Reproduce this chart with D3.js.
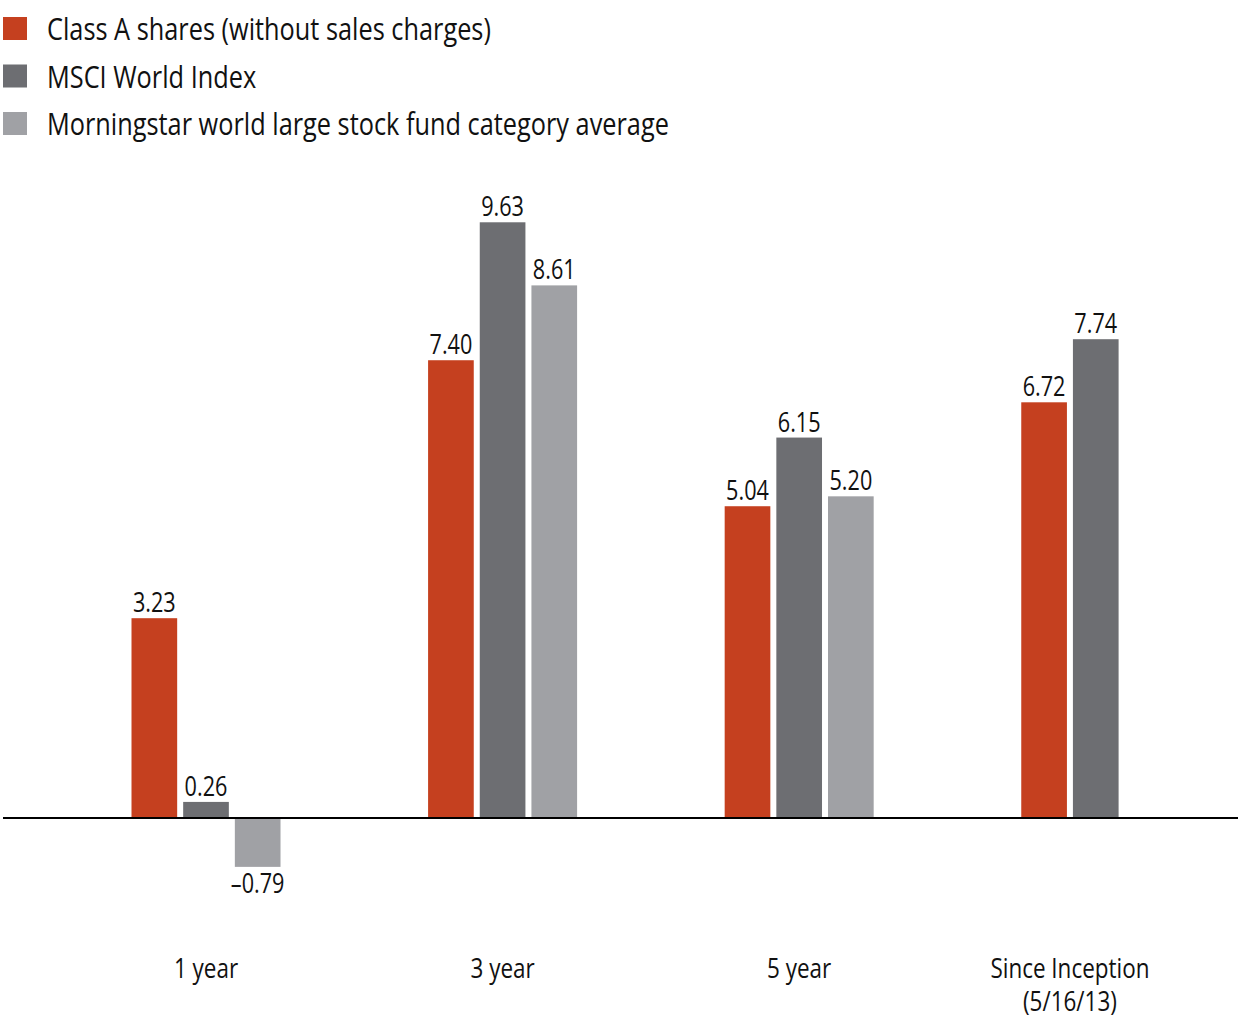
<!DOCTYPE html>
<html>
<head>
<meta charset="utf-8">
<script src="https://cdn.jsdelivr.net/npm/d3@7"></script>
<style>
  html, body { margin: 0; padding: 0; background: #fff; }
  svg { display: block; }
  text { font-family: "Open Sans", "Noto Sans", sans-serif; fill: #111; }
</style>
</head>
<body>
<script>
// ---- data ----
const categories = ["1 year", "3 year", "5 year", "Since Inception"];
const categoryLines = [["1 year"], ["3 year"], ["5 year"], ["Since Inception", "(5/16/13)"]];
const seriesNames = [
  "Class A shares (without sales charges)",
  "MSCI World Index",
  "Morningstar world large stock fund category average"
];
const classA = [3.23, 7.40, 5.04, 6.72];
const msciWorld = [0.26, 9.63, 6.15, 7.74];
const morningstar = [-0.79, 8.61, 5.20, null];
const seriesColors = ["#C5401F", "#6D6E72", "#A0A1A5"];

// ---- layout ----
const W = 1238, H = 1020;
const baselineY = 818;
const pxPerUnit = 61.86;
const slotPx = 51.67;
const barGap = 6;
const groupGapSlots = 2.74;
const firstBarX = 131.5;
const legendLine1Width = 444; // width of the first legend line in the condensed face

const svg = d3.select("body").append("svg").attr("width", W).attr("height", H);

// condense factor: make the font match the narrow face of the original
const probe = svg.append("text").attr("font-size", 31).text(seriesNames[0]);
const k = legendLine1Width / probe.node().getComputedTextLength();
probe.remove();

function label(sel, tx, ty, size, str, anchor) {
  return sel.append("text")
    .attr("transform", `translate(${tx},${ty}) scale(${k},1)`)
    .attr("font-size", size)
    .attr("text-anchor", anchor || "start")
    .text(str);
}

const seriesValues = [classA, msciWorld, morningstar];
const groups = categories.map((c, i) => ({
  cat: c,
  lines: categoryLines[i],
  bars: seriesValues.map((vals, s) => ({ s, v: vals[i] })).filter(b => b.v !== null && b.v !== undefined)
}));
let cursor = 0;
groups.forEach(g => { g.start = cursor; cursor += g.bars.length + groupGapSlots; });
const totalSlots = cursor - groupGapSlots;

const x = d3.scaleLinear().domain([0, totalSlots]).range([firstBarX, firstBarX + totalSlots * slotPx]);
const y = d3.scaleLinear().domain([-2, 10]).range([baselineY + 2 * pxPerUnit, baselineY - 10 * pxPerUnit]);
const barW = x(1) - x(0) - barGap;

const fmtLocale = d3.formatLocale({ decimal: ".", thousands: ",", grouping: [3], currency: ["$", ""], minus: "\u2013" });
const fmt = fmtLocale.format(".2f");

// ---- legend ----
const legend = svg.append("g");
seriesNames.forEach((name, i) => {
  const gy = 17 + i * 47.5;
  legend.append("rect").attr("x", 3).attr("y", gy).attr("width", 24).attr("height", 23).attr("fill", seriesColors[i]);
  label(legend, 47, gy + 23, 31, name);
});

// ---- bars ----
const gGroups = svg.append("g").selectAll("g").data(groups).join("g");
gGroups.each(function (g) {
  const sel = d3.select(this);
  g.bars.forEach((b, j) => {
    const bx = x(g.start + j);
    const y0 = y(0), y1 = y(b.v);
    sel.append("rect")
      .attr("x", bx).attr("y", Math.min(y0, y1))
      .attr("width", barW).attr("height", Math.abs(y1 - y0))
      .attr("fill", seriesColors[b.s]);
    label(sel, bx + barW / 2, b.v >= 0 ? y1 - 6 : y1 + 26, 26.5, fmt(b.v), "middle");
  });
  const cx = x(g.start) + (x(g.start + g.bars.length) - x(g.start) - barGap) / 2;
  g.lines.forEach((ln, li) => {
    label(sel, cx, 978 + li * 33, 27.5, ln, "middle");
  });
});

// ---- zero line ----
svg.append("line")
  .attr("x1", 3).attr("x2", W)
  .attr("y1", y(0)).attr("y2", y(0))
  .attr("stroke", "#000").attr("stroke-width", 2);
</script>
</body>
</html>
